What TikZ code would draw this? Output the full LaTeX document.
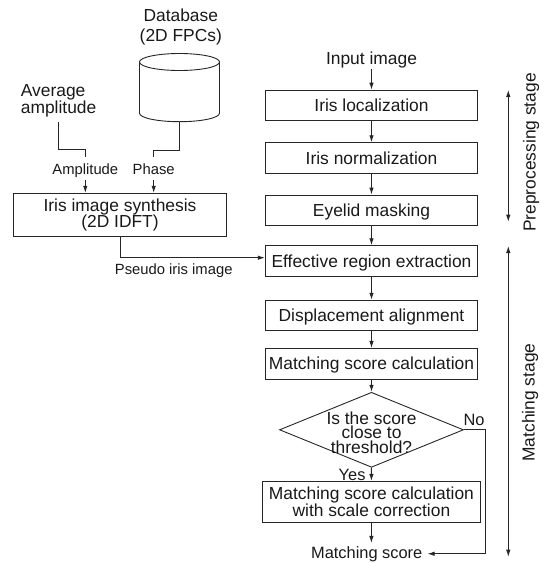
\documentclass[tikz,border=0pt]{standalone}
\usepackage{fontspec}
\setmainfont{Liberation Sans}
\usetikzlibrary{shapes.geometric,arrows.meta,calc}
\begin{document}
\begin{tikzpicture}[x=1pt,y=-1pt,
  line/.style={line width=0.9pt, draw=black!85},
  arr/.style={line, -{Latex[length=7pt,width=4.5pt]}},
  darr/.style={line, {Latex[length=7pt,width=4.5pt]}-{Latex[length=7pt,width=4.5pt]}},
  frame/.style={draw=black!85, line width=0.9pt, inner sep=0pt, text=black!90},
  box/.style={frame, minimum width=212.4pt, minimum height=30.6pt, text height=12.5pt, text depth=0pt, font=\fontsize{17.4}{16}\selectfont},
  lbl/.style={inner sep=0pt, text=black!90, font=\fontsize{14.8}{16}\selectfont},
  txt/.style={inner sep=0pt, text=black!90, font=\fontsize{17.4}{17}\selectfont},
  mid/.style={inner sep=0pt, text=black!90, font=\fontsize{16.4}{17}\selectfont}]
\useasboundingbox (0,0) rectangle (546,563);

% right column
\node[txt, anchor=base] (input) at (371.5,64) {Input image};
\node[box] (loc) at (371.5,105.4) {Iris localization};
\node[box] (norm) at (371.5,158) {Iris normalization};
\node[box] (eye) at (371.5,210.3) {Eyelid masking};
\node[box] (eff) at (371.5,261) {Effective region extraction};
\node[box] (disp) at (371.5,315.5) {Displacement alignment};
\node[box] (match) at (371.5,363.7) {Matching score calculation};
\node[diamond, draw=black!85, line width=0.9pt, inner sep=0pt, aspect=2.45,
      minimum width=184pt, minimum height=75pt] (dec) at (371.5,429.8) {};
\node[txt, align=center, font=\fontsize{17.4}{14.6}\selectfont] (dectext) at (371.5,432.4)
  {Is the score\\close to\\threshold?};
\node[frame, minimum width=217.3pt, minimum height=40.7pt, align=center,
      font=\fontsize{17.4}{16}\selectfont] (final) at (371.4,501.7)
  {Matching score calculation\\with scale correction};
\node[mid, anchor=base, inner xsep=5pt, inner ysep=3pt] (out) at (366.7,558) {Matching score};
\node[mid, anchor=base east] (yes) at (365.7,480) {Yes};
\node[mid, anchor=base west] (no) at (463.3,425.7) {No};
\coordinate (nocorner) at (485.5,429.8);

\draw[arr] ([yshift=-1pt]input.south) -- (loc);
\draw[arr] (loc) -- (norm);
\draw[arr] (norm) -- (eye);
\draw[arr] (eye) -- (eff);
\draw[arr] (eff) -- (disp);
\draw[arr] (disp) -- (match);
\draw[arr] (match) -- (dec);
\draw[arr] (dec) -- (final);
\draw[arr] (final.south) -- (final.south |- out.north);
\draw[arr] (dec.east) -- (nocorner) |- (out.east);

% stage arrows
\coordinate (pre1) at (508.3,90);
\coordinate (pre2) at (508.3,221.7);
\coordinate (mat1) at (508.3,246);
\coordinate (mat2) at (508.3,556.7);
\draw[darr] (pre1) -- (pre2);
\draw[darr] (mat1) -- (mat2);
\node[txt, rotate=90, anchor=base] (prelbl) at (535.5,152.5) {Preprocessing stage};
\node[txt, rotate=90, anchor=base] (matlbl) at (534.5,402.5) {Matching stage};

% left side
\node[txt, align=center, font=\fontsize{17.4}{20}\selectfont] (dbl) at (180.8,27.2) {Database\\(2D FPCs)};
\draw[line] (139.5,62) -- (139.5,113.2) arc[start angle=180, end angle=360, x radius=40pt, y radius=8.5pt] -- (219.5,62);
\draw[line] (179.5,62) ellipse [x radius=40pt, y radius=8.5pt];
\coordinate (dbbot) at (179.5,121.7);

\node[txt, align=left, anchor=west, font=\fontsize{17.4}{17}\selectfont] (avg) at (20.7,101.1) {Average\\amplitude};
\node[lbl, anchor=base] (amp) at (85.3,174.5) {Amplitude};
\node[lbl, anchor=base] (ph) at (153.7,174.5) {Phase};
\node[frame, minimum width=213.4pt, minimum height=43.4pt, align=center,
      font=\fontsize{17.4}{16.5}\selectfont] (synth) at (120,215) {Iris image synthesis\\(2D IDFT)};
\node[lbl, anchor=base] (pseudo) at (173.7,274) {Pseudo iris image};

\draw[line] ([yshift=-4pt]avg.south) -- ++(0,28.3) -| ([yshift=17.5pt]amp.base);
\draw[line] (dbbot) -- ++(0,28.3) -| ([yshift=17.5pt]ph.base);
\draw[arr] ([yshift=-5.5pt]amp.base) -- (amp.base |- synth.north);
\draw[arr] ([yshift=-5.5pt]ph.base) -- (ph.base |- synth.north);
\draw[arr] (synth.south) |- ([yshift=3.3pt]eff.west);
\end{tikzpicture}
\end{document}
